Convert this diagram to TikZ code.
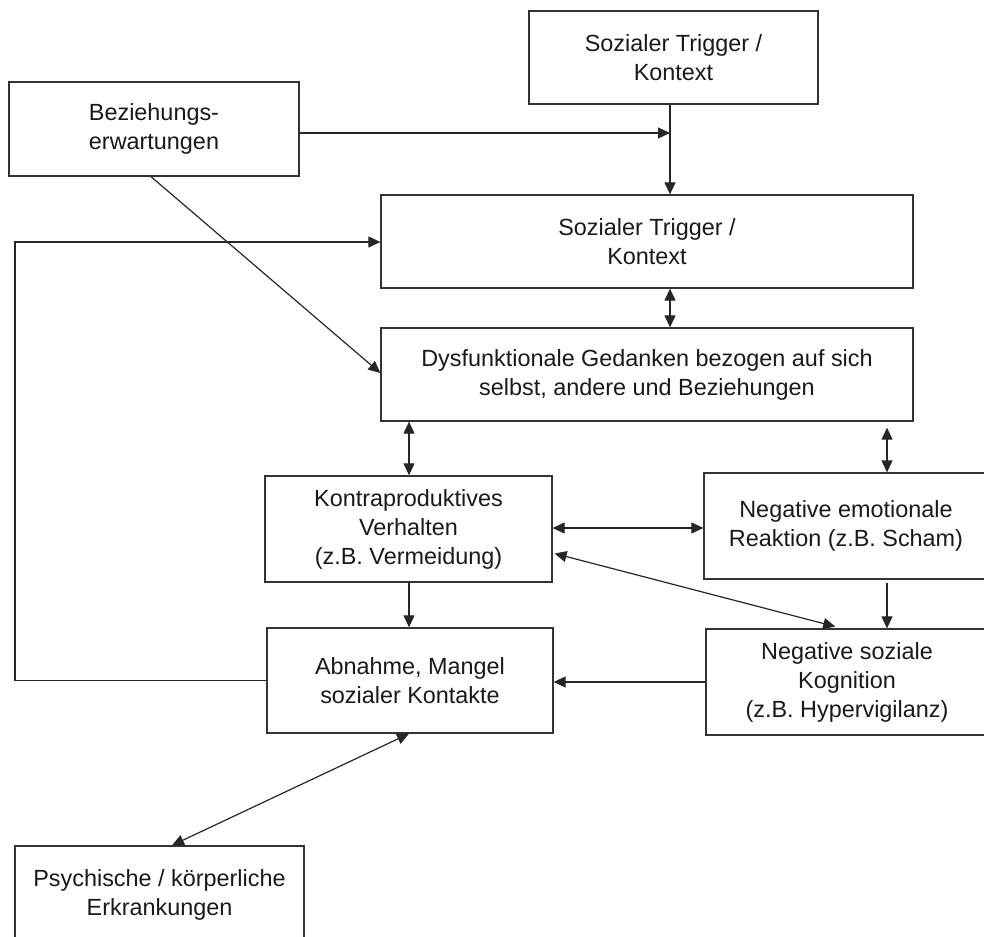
\documentclass[tikz,border=0pt]{standalone}
\usepackage{fontspec}
\setmainfont{Liberation Sans}
\usetikzlibrary{arrows.meta}
\begin{document}
\begin{tikzpicture}[x=1pt,y=-1pt,
  box/.style={draw=black!80, line width=1.3pt, rectangle, align=center, inner sep=0pt,
    font=\fontsize{23.4}{29}\selectfont, text=black!90},
  conn/.style={line width=1.2pt, draw=black!85},
  tip/.style={-{Triangle[length=12pt,width=11pt]}},
  both/.style={{Triangle[length=12pt,width=11pt]}-{Triangle[length=12pt,width=11pt]}}]
\useasboundingbox (0,0) rectangle (984,936);

\node[box, minimum width=289pt, minimum height=93pt] (trig0) at (673.5,57.5) {Sozialer Trigger /\\Kontext};
\node[box, minimum width=290pt, minimum height=94pt] (bez) at (154,129) {Beziehungs-\\erwartungen};
\node[box, minimum width=532pt, minimum height=93pt] (trig1) at (647,241.5) {Sozialer Trigger /\\Kontext};
\node[box, minimum width=532pt, minimum height=93pt] (dys) at (647,374.5) {Dysfunktionale Gedanken bezogen auf sich\\selbst, andere und Beziehungen};
\node[box, minimum width=287pt, minimum height=106pt] (kontra) at (408.5,529) {Kontraproduktives\\Verhalten\\(z.B. Vermeidung)};
\node[box, minimum width=284pt, minimum height=106pt] (emo) at (846,526) {Negative emotionale\\Reaktion (z.B. Scham)};
\node[box, minimum width=286pt, minimum height=105pt] (abn) at (410,680.5) {Abnahme, Mangel\\sozialer Kontakte};
\node[box, minimum width=282pt, minimum height=106pt] (kog) at (847,682) {Negative soziale\\Kognition\\(z.B. Hypervigilanz)};
\node[box, minimum width=289pt, minimum height=98pt] (psy) at (159.5,895) {Psychische / k\"orperliche\\Erkrankungen};

\coordinate (J) at (670,133);
\coordinate (B1) at (151,0);
\coordinate (B2) at (0,373);
\coordinate (L) at (15,242);
\coordinate (X1) at (409,0);
\coordinate (X2) at (887,0);
\coordinate (Y1) at (0,528);
\coordinate (D1) at (0,553);
\coordinate (D2) at (842,0);
\coordinate (P) at (172,0);

\draw[conn,tip] (bez.east |- J) -- (J);
\draw[conn,tip] (trig0.south -| J) -- (trig1.north -| J);
\draw[conn,tip] (bez.south -| B1) -- (dys.west |- B2);
\draw[conn,tip] (abn.west) -- (abn.west -| L) -- (L) -- (trig1.west |- L);
\draw[conn,both] (trig1.south -| J) -- (dys.north -| J);
\draw[conn,both] (dys.south -| X1) -- (kontra.north -| X1);
\draw[conn,tip] (kontra.south -| X1) -- (abn.north -| X1);
\draw[conn,both,shorten <=6pt] (dys.south -| X2) -- (emo.north -| X2);
\draw[conn,tip,shorten <=3pt] (emo.south -| X2) -- (kog.north -| X2);
\draw[conn,both] (kontra.east |- Y1) -- (emo.west |- Y1);
\draw[conn,tip] (kog.west) -- (abn.east |- kog.west);
\draw[conn,both,shorten <=2pt,shorten >=7pt] (kontra.east |- D1) -- (kog.north -| D2);
\draw[conn,both] (abn.south -| X1) -- (psy.north -| P);
\end{tikzpicture}
\end{document}
